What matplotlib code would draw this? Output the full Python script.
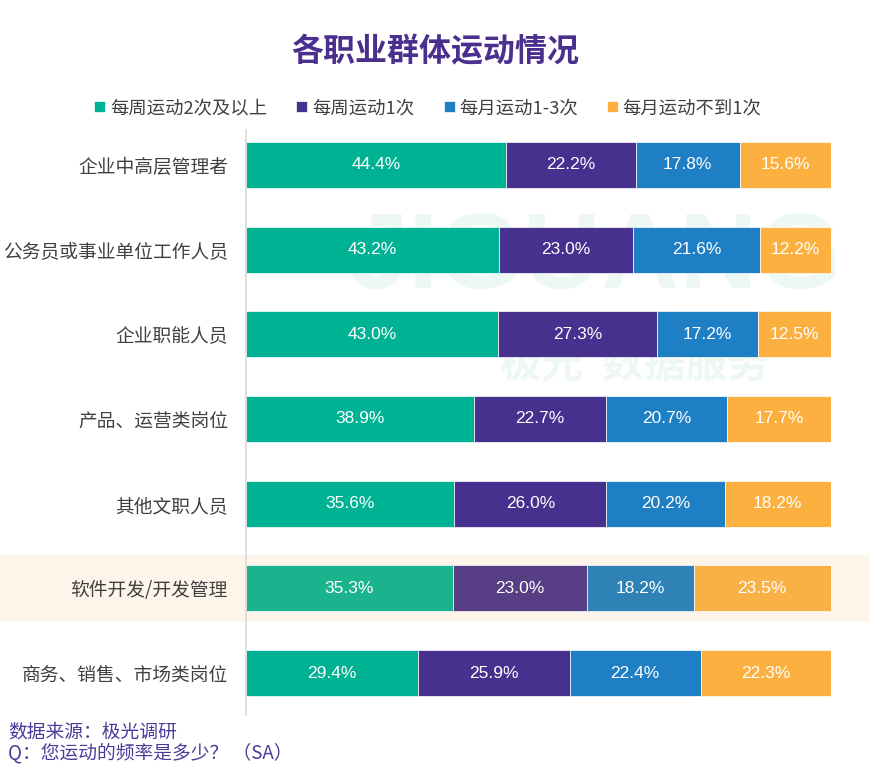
import matplotlib
matplotlib.use("Agg")
import matplotlib.pyplot as plt
from matplotlib.patches import Rectangle
from matplotlib.transforms import blended_transform_factory

plt.rcParams["font.family"] = ["Noto Sans CJK SC", "DejaVu Sans"]

categories = ["企业中高层管理者", "公务员或事业单位工作人员", "企业职能人员", "产品、运营类岗位",
              "其他文职人员", "软件开发/开发管理", "商务、销售、市场类岗位"]
series_names = ["每周运动2次及以上", "每周运动1次", "每月运动1-3次", "每月运动不到1次"]
weekly_2plus = [44.4, 43.2, 43.0, 38.9, 35.6, 35.3, 29.4]
weekly_1 = [22.2, 23.0, 27.3, 22.7, 26.0, 23.0, 25.9]
monthly_1_3 = [17.8, 21.6, 17.2, 20.7, 20.2, 18.2, 22.4]
monthly_lt1 = [15.6, 12.2, 12.5, 17.7, 18.2, 23.5, 22.3]
highlight = "软件开发/开发管理"

colors = ["#00B294", "#46318F", "#1E7FC5", "#FBB040"]
hl_colors = ["#1BB28E", "#573E85", "#2E82B5", "#F9B044"]
series = [weekly_2plus, weekly_1, monthly_1_3, monthly_lt1]

fig = plt.figure(figsize=(8.7, 7.66), dpi=100)

# watermark, behind everything
fig.text(0.40, 0.66, "JIGUANG", fontsize=78, fontweight="bold", color="#EEF8F2",
         family=["Liberation Sans"], ha="left", va="center", zorder=-5)
fig.text(0.575, 0.523, "极光  数据服务", fontsize=30, fontweight="bold", color="#EEF8F2",
         ha="left", va="center", zorder=-5)

ax = fig.add_axes([246 / 870, 1 - 715 / 766, 585 / 870, 585 / 766])
ax.patch.set_alpha(0)

ypos = list(range(len(categories)))
hi = categories.index(highlight)
trans = blended_transform_factory(fig.transFigure, ax.transData)
ax.add_patch(Rectangle((0, hi - 0.394), 1, 0.79, transform=trans, facecolor="#FDF5EA",
                       edgecolor="none", clip_on=False, zorder=0))

left = [0.0] * len(categories)
for k, vals in enumerate(series):
    cols = [hl_colors[k] if i == hi else colors[k] for i in ypos]
    ax.barh(ypos, vals, left=left, height=0.543, color=cols, edgecolor="white",
            linewidth=0.5, zorder=2, label=series_names[k])
    for i, v in enumerate(vals):
        ax.text(left[i] + v / 2, i, f"{v:.1f}%", ha="center", va="center", color="white",
                fontsize=12.5, family=["Liberation Sans"], zorder=3)
    left = [a + b for a, b in zip(left, vals)]

ax.set_xlim(0, 100)
ax.set_ylim(6.496, -0.413)
ax.set_yticks(ypos)
ax.set_yticklabels(categories, fontsize=13.5, color="#404040")
ax.tick_params(axis="y", length=0, pad=13)
ax.set_xticks([])
for s in ["top", "right", "bottom"]:
    ax.spines[s].set_visible(False)
ax.spines["left"].set_color("#D9D9D9")
ax.spines["left"].set_linewidth(1.2)

fig.text(0.5, 1 - 52 / 766, "各职业群体运动情况", ha="center", va="center", fontsize=23,
         fontweight="bold", color="#4A2F8F")

handles, labels = ax.get_legend_handles_labels()
leg = fig.legend(handles, labels, loc="center", bbox_to_anchor=(0.492, 1 - 108 / 766), ncol=4,
                 frameon=False, fontsize=13.2, handlelength=0.6, handleheight=0.6,
                 handletextpad=0.25, columnspacing=1.6, labelcolor="#404040")

fig.text(8 / 870, 1 - 732 / 766, "数据来源：极光调研", fontsize=13.5, color="#4A3A9A",
         style="italic", ha="left", va="center")
fig.text(8 / 870, 1 - 753 / 766, "Q：您运动的频率是多少？ （SA）", fontsize=13.5, color="#4A3A9A",
         style="italic", ha="left", va="center")

fig.savefig("out.png", dpi=100)
